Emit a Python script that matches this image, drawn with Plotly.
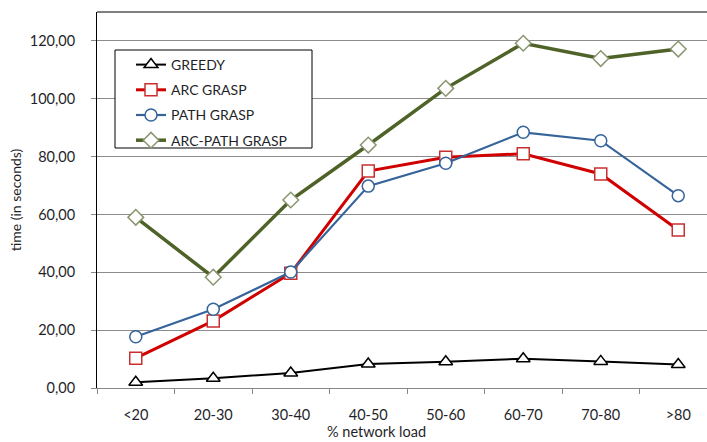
import plotly.graph_objects as go

categories = ["<20", "20-30", "30-40", "40-50", "50-60", "60-70", "70-80", ">80"]
greedy = [2.0, 3.4, 5.2, 8.3, 9.1, 10.1, 9.2, 8.1]
arc_grasp = [10.3, 23.2, 39.7, 75.0, 79.8, 81.0, 74.0, 54.6]
path_grasp = [17.7, 27.2, 40.1, 69.8, 77.7, 88.4, 85.5, 66.5]
arc_path_grasp = [59.0, 38.3, 65.0, 84.0, 103.6, 119.2, 113.9, 117.2]
y_ticks = [0, 20, 40, 60, 80, 100, 120]

W, H = 707, 442
L, R, T, B = 97, 0, 12, 54
pw, ph = W - L - R, H - T - B

def px2x(px):
    return (px - L) / pw

def py2y(py):
    return 1 - (py - T) / ph

series = [
    ("GREEDY", greedy, "#000000", "#000000", "triangle-up", 2, 12),
    ("ARC GRASP", arc_grasp, "#D00000", "#C83030", "square", 3, 12),
    ("PATH GRASP", path_grasp, "#36649A", "#36649A", "circle", 2.2, 12),
    ("ARC-PATH GRASP", arc_path_grasp, "#4F6228", "#8A9670", "diamond", 3.5, 12),
]

TXT = "#1F1F2A"

fig = go.Figure()
for i, (name, vals, lc, mc, sym, lw, ms) in enumerate(series):
    fig.add_trace(go.Scatter(
        x=categories, y=vals, name=name, mode="lines+markers",
        legendgroup=f"g{i}",
        line=dict(color=lc, width=lw),
        marker=dict(symbol=sym, size=ms, color="white", line=dict(color=mc, width=1.5)),
    ))

fig.update_layout(
    width=W, height=H,
    margin=dict(l=L, r=R, t=T, b=B),
    paper_bgcolor="white", plot_bgcolor="white",
    separators=",.",
    font=dict(family="Lato, Open Sans, sans-serif", size=14, color=TXT),
    showlegend=True,
    legend=dict(
        x=px2x(131), y=py2y(49), xanchor="left", yanchor="top",
        bgcolor="rgba(0,0,0,0)", borderwidth=0,
        tracegroupgap=4, traceorder="grouped",
        font=dict(size=14, color=TXT),
    ),
    xaxis=dict(
        type="category", range=[-0.5, -0.5 + pw / 77.5],
        showgrid=False, showline=True, linecolor="#888888", linewidth=1,
        ticks="outside", ticklen=5, tickcolor="#888888",
        tickson="boundaries", zeroline=False,
        tickfont=dict(size=14.5, color=TXT), ticklabelstandoff=14,
    ),
    yaxis=dict(
        range=[0, 130], tickvals=y_ticks, tickformat=".2f",
        showgrid=True, gridcolor="#8C8C8C", gridwidth=1,
        showline=True, linecolor="#000000", linewidth=1,
        ticks="outside", ticklen=5, tickcolor="#888888",
        zeroline=False,
        tickfont=dict(size=14.5, color=TXT), ticklabelstandoff=13,
        title=dict(text="time (in seconds)", font=dict(size=14, color=TXT), standoff=4),
    ),
)

# x-axis title
fig.add_annotation(text="% network load", x=px2x(376), y=py2y(432), xref="paper", yref="paper",
                   xanchor="center", yanchor="middle",
                   showarrow=False, font=dict(size=14.5, color=TXT))
# top border
fig.add_shape(type="line", xref="paper", yref="paper", x0=0, x1=1, y0=1, y1=1,
              line=dict(color="#000000", width=1))
# legend box
fig.add_shape(type="rect", xref="paper", yref="paper",
              x0=px2x(115), x1=px2x(312), y0=py2y(148), y1=py2y(50),
              line=dict(color="#000000", width=1), fillcolor="white", layer="above")

fig.write_html("out.html")
